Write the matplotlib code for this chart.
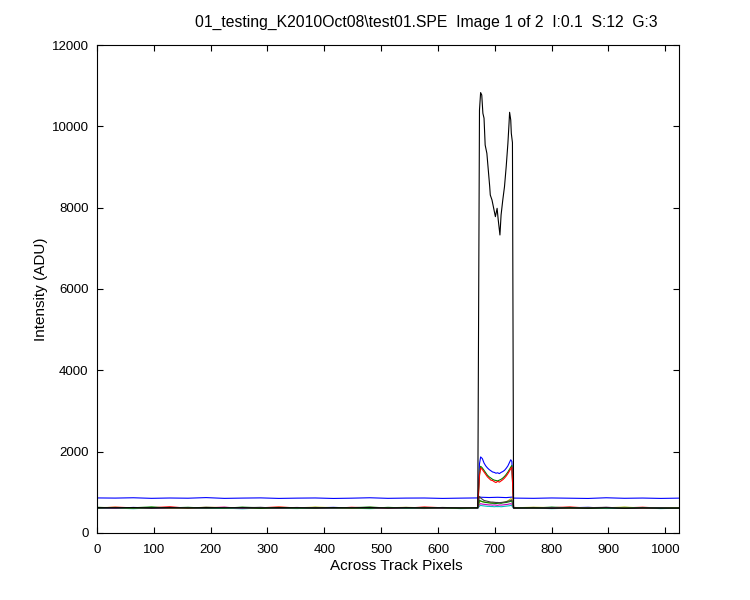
"""Across-track intensity profiles for one SPE image (MATLAB-style plot)."""

import matplotlib

matplotlib.use("Agg")
import matplotlib.pyplot as plt

TITLE = r"01_testing_K2010Oct08\test01.SPE  Image 1 of 2  I:0.1  S:12  G:3"
X_LABEL = "Across Track Pixels"
Y_LABEL = "Intensity (ADU)"
X_TICKS = [0, 100, 200, 300, 400, 500, 600, 700, 800, 900, 1000]
Y_TICKS = [0, 2000, 4000, 6000, 8000, 10000, 12000]

# pixel positions of the background samples, either side of the bright slit
X_LEFT = [0, 32, 64, 96, 128, 160, 192, 224, 256, 288, 320, 352, 384, 416,
          448, 480, 512, 544, 576, 608, 640, 670]
X_RIGHT = [733, 768, 800, 832, 864, 896, 928, 960, 992, 1024]
# pixel positions inside the slit
PEAK_X = [673, 675, 678, 681, 684, 687, 690, 693, 696, 699, 702, 705, 708,
          711, 714, 717, 720, 723, 726, 728, 730]
BLACK_PEAK_X = [673, 675, 677, 679, 681, 683, 686, 688, 691, 692, 695, 698,
                701, 704, 706, 709, 711, 714, 717, 720, 723, 725, 726, 728,
                729, 731]
BLUE_HI_PEAK_X = [673, 690, 705, 720, 732]

# high blue trace (raised background)
BLUE_HI_LEFT = [862, 858, 866, 852, 860, 855, 870, 851, 858, 863, 850, 857,
                861, 849, 856, 866, 852, 858, 860, 850, 857, 862]
BLUE_HI_PEAK = [880, 872, 878, 870, 884]
BLUE_HI_RIGHT = [858, 852, 861, 855, 849, 866, 853, 859, 850, 857]

# bright blue trace
BLUE_LEFT = [620, 612, 628, 617, 623, 609, 631, 618, 614, 626, 611, 622,
             619, 630, 613, 621, 616, 627, 610, 624, 618, 622]
BLUE_PEAK = [1700, 1870, 1830, 1720, 1650, 1600, 1560, 1530, 1500, 1490,
             1470, 1480, 1460, 1490, 1510, 1540, 1590, 1650, 1740, 1800, 1760]
BLUE_RIGHT = [615, 627, 612, 620, 631, 609, 622, 617, 625, 613]

# green trace
GREEN_LEFT = [632, 615, 621, 640, 612, 626, 618, 611, 635, 620, 624, 609,
              628, 616, 622, 638, 613, 619, 627, 612, 623, 617]
GREEN_PEAK = [1450, 1640, 1600, 1540, 1480, 1420, 1380, 1350, 1320, 1300,
              1290, 1280, 1300, 1320, 1350, 1390, 1440, 1500, 1570, 1620, 1660]
GREEN_RIGHT = [621, 612, 636, 618, 624, 610, 629, 615, 622, 618]

# red trace
RED_LEFT = [611, 636, 618, 622, 645, 610, 624, 630, 612, 619, 641, 615,
            623, 608, 632, 617, 625, 611, 639, 620, 614, 626]
RED_PEAK = [1400, 1600, 1560, 1500, 1440, 1380, 1340, 1300, 1290, 1260,
            1240, 1270, 1250, 1280, 1310, 1350, 1400, 1460, 1530, 1580, 1620]
RED_RIGHT = [628, 609, 622, 640, 613, 625, 618, 633, 611, 620]

# cyan trace
CYAN_LEFT = [605, 612, 598, 616, 607, 620, 603, 611, 596, 614, 608, 601,
             617, 604, 610, 599, 613, 606, 602, 615, 600, 609]
CYAN_PEAK = [660, 680, 670, 665, 660, 655, 655, 650, 650, 645, 650, 648,
             650, 645, 650, 655, 660, 665, 670, 680, 670]
CYAN_RIGHT = [604, 613, 599, 610, 618, 602, 608, 615, 600, 611]

# magenta trace
MAGENTA_LEFT = [618, 610, 626, 614, 605, 622, 616, 633, 609, 620, 612, 628,
                607, 619, 624, 611, 604, 621, 615, 609, 625, 613]
MAGENTA_PEAK = [700, 720, 710, 705, 700, 695, 690, 690, 685, 690, 685, 680,
                690, 685, 690, 695, 700, 705, 715, 720, 710]
MAGENTA_RIGHT = [612, 624, 607, 619, 611, 629, 616, 606, 622, 614]

# yellow trace
YELLOW_LEFT = [624, 630, 615, 627, 619, 612, 634, 621, 626, 613, 629, 618,
               635, 622, 611, 628, 620, 631, 617, 626, 612, 624]
YELLOW_PEAK = [760, 780, 770, 760, 755, 750, 745, 740, 745, 740, 735, 740,
               745, 740, 750, 760, 770, 790, 820, 840, 830]
YELLOW_RIGHT = [619, 632, 624, 611, 627, 620, 635, 616, 625, 621]

# second (faint) green trace
GREEN2_LEFT = [616, 623, 610, 629, 618, 631, 612, 620, 627, 608, 622, 616,
               611, 625, 619, 607, 630, 614, 622, 618, 610, 621]
GREEN2_PEAK = [800, 790, 770, 760, 750, 745, 740, 735, 730, 730, 725, 730,
               735, 730, 740, 745, 750, 760, 770, 780, 790]
GREEN2_RIGHT = [623, 614, 619, 628, 606, 621, 613, 626, 617, 612]

# faint black trace
BLACK2_LEFT = [614, 625, 621, 607, 628, 617, 613, 626, 619, 631, 606, 620,
               626, 612, 618, 629, 609, 624, 613, 627, 619, 615]
BLACK2_PEAK = [900, 860, 830, 800, 790, 780, 770, 760, 760, 755, 750, 750,
               745, 750, 755, 760, 770, 780, 790, 800, 810]
BLACK2_RIGHT = [618, 609, 627, 615, 622, 631, 610, 619, 624, 613]

# main black trace (strong slit signal)
BLACK_LEFT = [622, 619, 624, 617, 621, 615, 623, 618, 620, 614, 622, 619,
              616, 621, 618, 623, 615, 620, 617, 619, 614, 618]
BLACK_PEAK = [10400, 10830, 10770, 10320, 10200, 9540, 9336, 9008, 8516,
              8311, 8189, 7984, 7779, 7984, 7697, 7328, 7820, 8189, 8516,
              9008, 9582, 10074, 10345, 10156, 9828, 9600]
BLACK_RIGHT = [612, 618, 609, 615, 611, 617, 608, 614, 610, 613]

TRACES = [
    ("#0000ff", BLUE_HI_LEFT, BLUE_HI_PEAK_X, BLUE_HI_PEAK, BLUE_HI_RIGHT),
    ("#0000ff", BLUE_LEFT, PEAK_X, BLUE_PEAK, BLUE_RIGHT),
    ("#008000", GREEN_LEFT, PEAK_X, GREEN_PEAK, GREEN_RIGHT),
    ("#ff0000", RED_LEFT, PEAK_X, RED_PEAK, RED_RIGHT),
    ("#00bfbf", CYAN_LEFT, PEAK_X, CYAN_PEAK, CYAN_RIGHT),
    ("#bf00bf", MAGENTA_LEFT, PEAK_X, MAGENTA_PEAK, MAGENTA_RIGHT),
    ("#bfbf00", YELLOW_LEFT, PEAK_X, YELLOW_PEAK, YELLOW_RIGHT),
    ("#008000", GREEN2_LEFT, PEAK_X, GREEN2_PEAK, GREEN2_RIGHT),
    ("#404040", BLACK2_LEFT, PEAK_X, BLACK2_PEAK, BLACK2_RIGHT),
    ("#000000", BLACK_LEFT, BLACK_PEAK_X, BLACK_PEAK, BLACK_RIGHT),
]

plt.rcParams["font.family"] = ["Liberation Sans", "DejaVu Sans"]

fig = plt.figure(figsize=(7.5, 6.0), dpi=100)
fig.patch.set_facecolor("white")
ax = fig.add_axes([0.1293, 0.1117, 0.7760, 0.8133])

for color, left, peak_x, peak, right in TRACES:
    xs = X_LEFT + peak_x + X_RIGHT
    ys = left + peak + right
    ax.plot(xs, ys, color=color, linewidth=0.8)

ax.set_xlim(0, 1024)
ax.set_ylim(0, 12000)
ax.set_xticks(X_TICKS)
ax.set_yticks(Y_TICKS)
ax.tick_params(direction="in", length=4, width=0.8, top=True, right=True,
               labelsize=9.5, pad=6)
ax.tick_params(axis="x", pad=8)
for side in ax.spines.values():
    side.set_linewidth(0.8)

ax.set_xlabel(X_LABEL, fontsize=11)
ax.set_ylabel(Y_LABEL, fontsize=11)
ax.xaxis.set_label_coords(0.515, -0.053)
ax.yaxis.set_label_coords(-0.084, 0.5)

fig.text(195 / 750, 1 - 27 / 600, TITLE, fontsize=11.3, ha="left",
         va="baseline")

fig.savefig("out.png", dpi=100)
plt.close(fig)
